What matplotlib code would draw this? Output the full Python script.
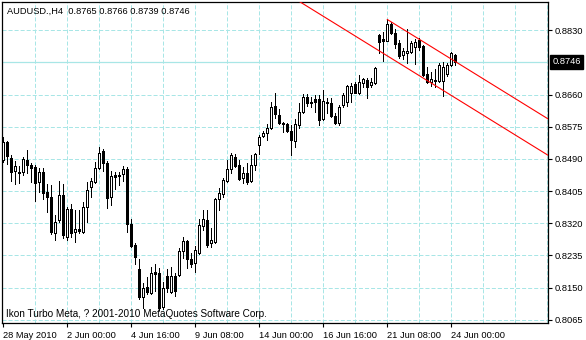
import numpy as np
import matplotlib
matplotlib.use('Agg')
import matplotlib.pyplot as plt
import matplotlib.transforms as mtransforms
from matplotlib import rcParams

rcParams['font.family'] = 'Liberation Sans'
rcParams['font.size'] = 6.7
rcParams['lines.scale_dashes'] = False

# AUDUSD H4 bars
opens = [0.8487, 0.8535, 0.8492, 0.8458, 0.8453, 0.8455, 0.8487, 0.8474, 0.8469, 0.8429,
         0.8455, 0.8403, 0.8389, 0.8294, 0.8329, 0.8395, 0.8284, 0.8358, 0.8297, 0.8305,
         0.8297, 0.8363, 0.8416, 0.8429, 0.8466, 0.8511, 0.8479, 0.8389, 0.8447, 0.8445,
         0.8450, 0.8463, 0.8318, 0.8263, 0.8199, 0.8125, 0.8152, 0.8136, 0.8191, 0.8189,
         0.8099, 0.8181, 0.8139, 0.8181, 0.8184, 0.8247, 0.8273, 0.8226, 0.8215, 0.8242,
         0.8313, 0.8329, 0.8268, 0.8271, 0.8384, 0.8397, 0.8432, 0.8463, 0.8495, 0.8474,
         0.8440, 0.8453, 0.8432, 0.8474, 0.8526, 0.8550, 0.8558, 0.8571, 0.8629, 0.8606,
         0.8585, 0.8582, 0.8563, 0.8537, 0.8579, 0.8614, 0.8653, 0.8640, 0.8648, 0.8648,
         0.8595, 0.8637, 0.8637, 0.8603, 0.8585, 0.8632, 0.8640, 0.8664, 0.8687, 0.8664,
         0.8690, 0.8698, 0.8685, 0.8690, 0.8817, 0.8806, 0.8801, 0.8846, 0.8822, 0.8796,
         0.8764, 0.8769, 0.8772, 0.8785, 0.8804, 0.8788, 0.8714, 0.8692, 0.8698, 0.8695,
         0.8695, 0.8714, 0.8738, 0.8765]
highs = [0.8548, 0.8537, 0.8500, 0.8484, 0.8471, 0.8495, 0.8513, 0.8479, 0.8474, 0.8466,
         0.8466, 0.8424, 0.8421, 0.8342, 0.8432, 0.8424, 0.8363, 0.8371, 0.8355, 0.8355,
         0.8376, 0.8429, 0.8440, 0.8482, 0.8521, 0.8516, 0.8484, 0.8458, 0.8455, 0.8455,
         0.8471, 0.8469, 0.8331, 0.8268, 0.8226, 0.8163, 0.8178, 0.8205, 0.8213, 0.8202,
         0.8165, 0.8199, 0.8205, 0.8189, 0.8255, 0.8284, 0.8276, 0.8242, 0.8260, 0.8331,
         0.8355, 0.8355, 0.8307, 0.8386, 0.8413, 0.8440, 0.8487, 0.8505, 0.8503, 0.8487,
         0.8469, 0.8479, 0.8500, 0.8505, 0.8553, 0.8563, 0.8582, 0.8640, 0.8664, 0.8622,
         0.8587, 0.8585, 0.8579, 0.8595, 0.8637, 0.8661, 0.8661, 0.8653, 0.8658, 0.8658,
         0.8672, 0.8651, 0.8651, 0.8611, 0.8632, 0.8664, 0.8685, 0.8690, 0.8692, 0.8711,
         0.8703, 0.8703, 0.8703, 0.8732, 0.8819, 0.8825, 0.8859, 0.8851, 0.8833, 0.8804,
         0.8783, 0.8833, 0.8801, 0.8806, 0.8809, 0.8790, 0.8732, 0.8719, 0.8727, 0.8743,
         0.8745, 0.8743, 0.8772, 0.8766]
lows = [0.8482, 0.8476, 0.8432, 0.8424, 0.8426, 0.8447, 0.8453, 0.8429, 0.8379, 0.8403,
        0.8384, 0.8350, 0.8292, 0.8276, 0.8323, 0.8281, 0.8276, 0.8284, 0.8271, 0.8294,
        0.8294, 0.8323, 0.8389, 0.8426, 0.8463, 0.8458, 0.8360, 0.8368, 0.8410, 0.8421,
        0.8432, 0.8297, 0.8257, 0.8213, 0.8120, 0.8097, 0.8134, 0.8134, 0.8141, 0.8091,
        0.8094, 0.8139, 0.8136, 0.8128, 0.8181, 0.8228, 0.8202, 0.8205, 0.8191, 0.8239,
        0.8302, 0.8257, 0.8257, 0.8268, 0.8355, 0.8389, 0.8429, 0.8453, 0.8469, 0.8434,
        0.8426, 0.8424, 0.8429, 0.8460, 0.8503, 0.8548, 0.8540, 0.8569, 0.8598, 0.8582,
        0.8560, 0.8560, 0.8500, 0.8521, 0.8571, 0.8611, 0.8629, 0.8626, 0.8614, 0.8579,
        0.8593, 0.8611, 0.8600, 0.8582, 0.8579, 0.8626, 0.8629, 0.8640, 0.8664, 0.8661,
        0.8680, 0.8651, 0.8680, 0.8687, 0.8769, 0.8748, 0.8801, 0.8819, 0.8783, 0.8756,
        0.8753, 0.8743, 0.8769, 0.8740, 0.8777, 0.8709, 0.8690, 0.8682, 0.8680, 0.8692,
        0.8656, 0.8709, 0.8735, 0.8739]
closes = [0.8535, 0.8498, 0.8455, 0.8471, 0.8455, 0.8490, 0.8474, 0.8466, 0.8426, 0.8455,
          0.8400, 0.8389, 0.8297, 0.8323, 0.8395, 0.8289, 0.8358, 0.8294, 0.8305, 0.8300,
          0.8363, 0.8408, 0.8432, 0.8466, 0.8505, 0.8479, 0.8386, 0.8445, 0.8442, 0.8447,
          0.8463, 0.8318, 0.8260, 0.8231, 0.8125, 0.8149, 0.8139, 0.8189, 0.8186, 0.8097,
          0.8149, 0.8149, 0.8181, 0.8141, 0.8247, 0.8273, 0.8226, 0.8213, 0.8250, 0.8315,
          0.8331, 0.8263, 0.8276, 0.8384, 0.8400, 0.8434, 0.8463, 0.8500, 0.8471, 0.8437,
          0.8453, 0.8429, 0.8474, 0.8503, 0.8548, 0.8558, 0.8571, 0.8626, 0.8608, 0.8585,
          0.8582, 0.8563, 0.8540, 0.8582, 0.8614, 0.8653, 0.8637, 0.8637, 0.8640, 0.8593,
          0.8643, 0.8640, 0.8603, 0.8585, 0.8626, 0.8658, 0.8682, 0.8682, 0.8664, 0.8692,
          0.8701, 0.8680, 0.8692, 0.8730, 0.8798, 0.8801, 0.8846, 0.8822, 0.8793, 0.8761,
          0.8775, 0.8775, 0.8796, 0.8798, 0.8785, 0.8711, 0.8692, 0.8701, 0.8695, 0.8738,
          0.8732, 0.8738, 0.8769, 0.8746]

time_labels = ['28 May 2010', '2 Jun 00:00', '4 Jun 16:00', '9 Jun 08:00',
               '14 Jun 00:00', '16 Jun 16:00', '21 Jun 08:00', '24 Jun 00:00']
price_ticks = [0.8065, 0.8150, 0.8235, 0.8320, 0.8405, 0.8490, 0.8575, 0.8660, 0.8746, 0.8830]
bid = 0.8746

# equidistant channel: two anchors on the upper line, plus width
chan_bars = [96, 113]
chan_prices = [0.8858, 0.8747]
chan_width = 0.0096

W, H = 586, 340
fig = plt.figure(figsize=(W / 100, H / 100), dpi=100)
ax = fig.add_axes([2 / W, (H - 323.3) / H, (548.3 - 2) / W, (323.3 - 1.7) / H])
x0, x1 = -0.33, 136.25
ax.set_xlim(x0, x1)
ax.set_ylim(0.8056, 0.8905)

grid_c = '#a8e6e6'
grid_ls = (0, (2.9, 1.45))
for gx in range(8, 137, 8):
    ax.axvline(gx, color=grid_c, lw=0.72, ls=grid_ls, zorder=0)
for gy in price_ticks:
    if gy != bid:
        ax.axhline(gy, color=grid_c, lw=0.72, ls=grid_ls, zorder=0)
ax.axhline(bid, color=grid_c, lw=0.9, zorder=0)

o = np.array(opens); c = np.array(closes)
hi = np.array(highs); lo = np.array(lows)
idx = np.arange(len(o))
ax.vlines(idx, lo, hi, color='black', lw=0.72, zorder=2, antialiased=False)
bull = c >= o
fills = np.where(bull, 'white', 'black')
ax.bar(idx, np.abs(c - o), bottom=np.minimum(o, c), width=0.5, color=fills,
       edgecolor='black', linewidth=0.72, zorder=3, antialiased=False)

# channel lines
slope = (chan_prices[1] - chan_prices[0]) / (chan_bars[1] - chan_bars[0])
xs_up = np.array([chan_bars[0], x1])
ax.plot(xs_up, chan_prices[0] + slope * (xs_up - chan_bars[0]), color='red', lw=0.8, zorder=4)
xs_lo = np.array([60, x1])
ax.plot(xs_lo, chan_prices[0] - chan_width + slope * (xs_lo - chan_bars[0]),
        color='red', lw=0.8, zorder=4)

ax.set_xticks(np.arange(len(time_labels)) * 16)
ax.set_xticklabels(time_labels, ha='left')
ax.tick_params(axis='x', direction='out', length=3, width=0.8, pad=2.5, labelsize=6.7)
ax.yaxis.tick_right()
ax.set_yticks([t for t in price_ticks if t != bid])
ax.set_yticklabels(['%.4f' % t for t in price_ticks if t != bid])
ax.tick_params(axis='y', direction='out', length=3, width=0.8, pad=1.5, labelsize=6.7)
for s in ax.spines.values():
    s.set_linewidth(0.9)

trans = mtransforms.blended_transform_factory(ax.transAxes, ax.transData)
ax.text(1.008, bid, '%.4f' % bid, transform=trans, ha='left', va='center', color='white',
        fontsize=6.7, bbox=dict(boxstyle='square,pad=0.25', fc='black', ec='black'), clip_on=False)

fig.text(7 / W, 1 - 11 / H, 'AUDUSD.,H4  %.4f %.4f %.4f %.4f' % (opens[-1], highs[-1], lows[-1], closes[-1]),
         ha='left', va='center', fontsize=6.7)
fig.text(5.5 / W, 1 - 314 / H, 'Ikon Turbo Meta, ? 2001-2010 MetaQuotes Software Corp.',
         ha='left', va='center', fontsize=7.2)

fig.savefig('out.png', dpi=100, facecolor='white')
